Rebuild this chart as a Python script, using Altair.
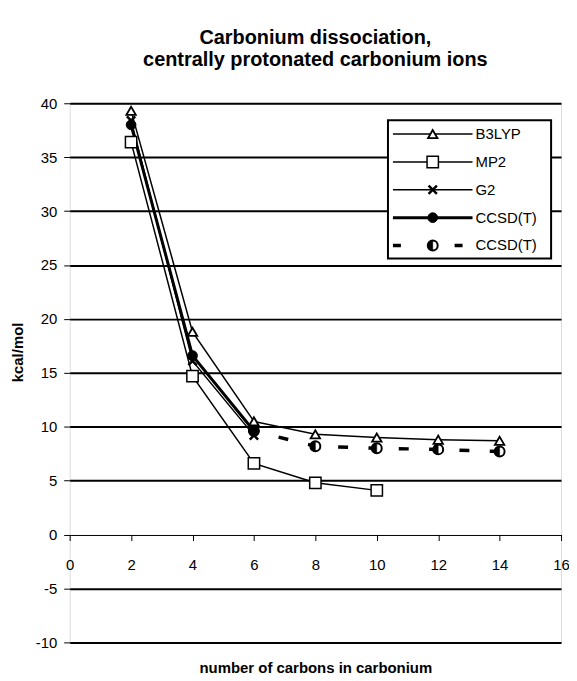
import altair as alt
import pandas as pd

# ---- data ----
series_names = ["B3LYP", "MP2", "G2", "CCSD(T)", "CCSD(T)"]

b3lyp_n = [2, 4, 6, 8, 10, 12, 14]
b3lyp_e = [39.3, 18.8, 10.5, 9.3, 9.0, 8.8, 8.7]

mp2_n = [2, 4, 6, 8, 10]
mp2_e = [36.4, 14.7, 6.6, 4.8, 4.1]

g2_n = [2, 4, 6]
g2_e = [38.4, 16.1, 9.2]

ccsd_n = [2, 4, 6]
ccsd_e = [38.0, 16.6, 9.6]

ccsd_ext_n = [6, 8, 10, 12, 14]
ccsd_ext_e = [9.6, 8.2, 8.0, 7.9, 7.7]

x_ticks = list(range(0, 17, 2))
y_ticks = list(range(-10, 41, 5))

# ---- layout ----
W, H = 494, 542
FONT = "Liberation Sans"
zero_offset = H * 10 / 50  # distance of y=0 above the bottom frame
axis_y = H - zero_offset   # plot-relative y of the x axis line

def frame(n, e):
    return pd.DataFrame({"n": n, "e": e})

xs = alt.Scale(domain=[0, 16], nice=False, zero=False)
ys = alt.Scale(domain=[-10, 40], nice=False, zero=False)

x_axis = alt.Axis(
    values=x_ticks, offset=-zero_offset, domain=False, grid=False,
    tickColor="black", tickSize=6, tickWidth=1,
    labelFont=FONT, labelFontSize=15, labelColor="black", labelPadding=17,
    labelFlush=False, labelOverlap=False,
    title="number of carbons in carbonium", titleFont=FONT, titleFontSize=15,
    titleFontWeight="bold", titleColor="black",
    titleY=567 - axis_y, titleBaseline="middle",
)
y_axis = alt.Axis(
    values=y_ticks, domain=False, grid=True, gridColor="black",
    gridWidth={"condition": {"test": "datum.value === 0", "value": 1}, "value": 2},
    gridOpacity=1,
    tickColor="black", tickSize=6, tickWidth=1,
    labelFont=FONT, labelFontSize=15, labelColor="black", labelPadding=7,
    labelExpr="toString(datum.value)",
    title="kcal/mol", titleFont=FONT, titleFontSize=15, titleFontWeight="bold",
    titleColor="black", titleX=-52, titleY=250, titleAngle=270,
    titleAlign="center", titleBaseline="middle",
)

X = alt.X("n:Q", scale=xs, axis=x_axis)
Y = alt.Y("e:Q", scale=ys, axis=y_axis)

def line(n, e, width, dash=None, offset=None):
    kw = dict(color="black", strokeWidth=width)
    if dash is not None:
        kw["strokeDash"] = dash
    if offset is not None:
        kw["strokeDashOffset"] = offset
    return alt.Chart(frame(n, e)).mark_line(**kw).encode(x=X, y=Y)

def points(n, e, **kw):
    return alt.Chart(frame(n, e)).mark_point(opacity=1, **kw).encode(x=X, y=Y)

X_SHAPE = "M-1,-1L1,1M-1,1L1,-1"
HALF = "M0,-1A1,1,0,0,0,0,1Z"

layers = [
    line(b3lyp_n, b3lyp_e, 1.5),
    line(mp2_n, mp2_e, 1.5),
    line(g2_n, g2_e, 1.5),
    line(ccsd_n, ccsd_e, 3),
    line(ccsd_ext_n, ccsd_ext_e, 3.5, dash=[10, 20.5], offset=5),
    points(mp2_n, mp2_e, shape="square", size=130, filled=True, fill="white", stroke="black", strokeWidth=1.5),
    points(ccsd_ext_n, ccsd_ext_e, shape="circle", size=100, filled=True, fill="white", stroke="black", strokeWidth=2),
    points(ccsd_ext_n, ccsd_ext_e, shape=HALF, size=100, filled=True, fill="black", stroke="black", strokeWidth=0.5),
    points(ccsd_n, ccsd_e, shape="circle", size=95, filled=True, fill="black", stroke="black", strokeWidth=1),
    points(g2_n, g2_e, shape=X_SHAPE, size=70, filled=False, stroke="black", strokeWidth=2.5),
    points(b3lyp_n, b3lyp_e, shape="triangle-up", size=90, filled=True, fill="white", stroke="black", strokeWidth=1.8),
]

# ---- legend (drawn inside the plot, top right) ----
one = pd.DataFrame({"k": [0]})
layers.append(
    alt.Chart(one).mark_rect(fill="white", stroke="black", strokeWidth=2).encode(
        x=alt.value(320), x2=alt.value(484), y=alt.value(17), y2=alt.value(156)
    )
)
rows = [31, 59, 87, 115, 143]
mx = 365
for i, name in enumerate(series_names):
    ry = rows[i]
    lab = pd.DataFrame({"label": [name]})
    if i < 3:
        layers.append(alt.Chart(lab).mark_rule(color="black", strokeWidth=1.5).encode(
            x=alt.value(325), x2=alt.value(405), y=alt.value(ry)))
    elif i == 3:
        layers.append(alt.Chart(lab).mark_rule(color="black", strokeWidth=3).encode(
            x=alt.value(325), x2=alt.value(405), y=alt.value(ry)))
    else:
        layers.append(alt.Chart(lab).mark_rule(color="black", strokeWidth=3.5, strokeDash=[8, 54]).encode(
            x=alt.value(325), x2=alt.value(405), y=alt.value(ry)))
    if i == 0:
        specs = [dict(shape="triangle-up", size=90, filled=True, fill="white", stroke="black", strokeWidth=1.8)]
    elif i == 1:
        specs = [dict(shape="square", size=130, filled=True, fill="white", stroke="black", strokeWidth=1.5)]
    elif i == 2:
        specs = [dict(shape=X_SHAPE, size=70, filled=False, stroke="black", strokeWidth=2.5)]
    elif i == 3:
        specs = [dict(shape="circle", size=95, filled=True, fill="black", stroke="black", strokeWidth=1)]
    else:
        specs = [dict(shape="circle", size=100, filled=True, fill="white", stroke="black", strokeWidth=2),
                 dict(shape=HALF, size=100, filled=True, fill="black", stroke="black", strokeWidth=0.5)]
    for s in specs:
        layers.append(alt.Chart(lab).mark_point(opacity=1, **s).encode(
            x=alt.value(mx), y=alt.value(ry)))
    layers.append(alt.Chart(lab).mark_text(
        align="left", baseline="middle", font=FONT, fontSize=15, color="black"
    ).encode(x=alt.value(408), y=alt.value(ry), text="label:N"))

chart = alt.layer(*layers).properties(
    width=W, height=H,
    title=alt.TitleParams(
        ["Carbonium dissociation,", "centrally protonated carbonium ions"],
        font=FONT, fontSize=20, fontWeight="bold", color="black",
        anchor="middle", offset=26, lineHeight=23,
    ),
    autosize=alt.AutoSizeParams(type="none"),
    padding={"left": 62, "top": 94, "right": 8, "bottom": 34},
).configure_view(stroke="black", strokeWidth=2).configure(background="white")

chart.save("out.html", embed_options={"renderer": "svg", "actions": False})
